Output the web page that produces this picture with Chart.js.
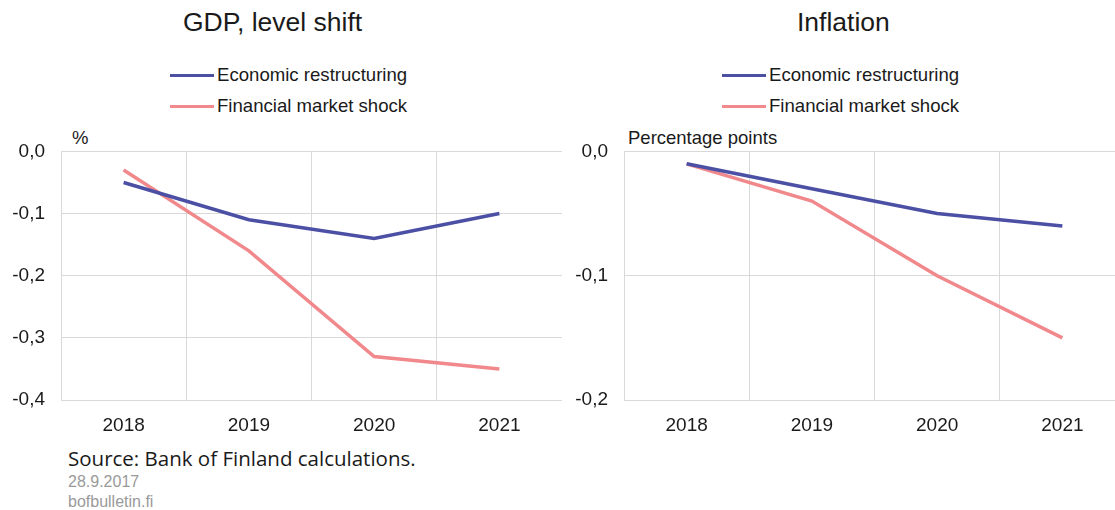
<!DOCTYPE html>
<html>
<head>
<meta charset="utf-8">
<script src="https://cdn.jsdelivr.net/npm/chart.js@4"></script>
<style>
  body { margin: 0; width: 1115px; height: 510px; overflow: hidden; position: relative; background: #fff;
         font-family: "Liberation Sans", Arial, sans-serif; color: #1a1a1a; }
  .abs { position: absolute; white-space: nowrap; }
  .title { font-size: 26.5px; top: 7px; }
  .leg { font-size: 18.6px; line-height: 22px; }
  .leg span { display: inline-block; width: 44px; height: 3px; vertical-align: middle; margin-right: 3px; position: relative; top: -1px; }
  .unit { font-size: 18.5px; top: 127px; }
  .wrap { position: absolute; top: 124px; width: 562px; height: 316px; }
</style>
</head>
<body>
<div class="abs title" style="left:183px">GDP, level shift</div>
<div class="abs title" style="left:797px">Inflation</div>

<div class="abs leg" style="left:170px;top:64px"><span style="background:#4b50a5"></span>Economic restructuring</div>
<div class="abs leg" style="left:170px;top:95px"><span style="background:#f0888c"></span>Financial market shock</div>
<div class="abs leg" style="left:722px;top:64px"><span style="background:#4b50a5"></span>Economic restructuring</div>
<div class="abs leg" style="left:722px;top:95px"><span style="background:#f0888c"></span>Financial market shock</div>

<div class="abs unit" style="left:72px">%</div>
<div class="abs unit" style="left:628px">Percentage points</div>

<div class="wrap" style="left:0"><canvas id="gdp" width="562" height="316"></canvas></div>
<div class="wrap" style="left:563px"><canvas id="infl" width="562" height="316"></canvas></div>

<div class="abs" style="left:68px;top:444px;font-family:'Open Sans',sans-serif;font-size:20.5px">Source: Bank of Finland calculations.</div>
<div class="abs" style="left:68px;top:473px;font-size:16px;color:#9a9a9a">28.9.2017</div>
<div class="abs" style="left:68px;top:493px;font-size:16px;color:#9a9a9a">bofbulletin.fi</div>

<script>
const years = ['2018', '2019', '2020', '2021'];
const seriesNames = ['Economic restructuring', 'Financial market shock'];
const gdpRestructuring = [-0.05, -0.11, -0.14, -0.10];
const gdpFinancial = [-0.03, -0.16, -0.33, -0.35];
const inflRestructuring = [-0.01, -0.03, -0.05, -0.06];
const inflFinancial = [-0.01, -0.04, -0.10, -0.15];
const colors = ['#4b50a5', '#f0888c'];

function makeChart(id, a, b, yMin) {
    new Chart(document.getElementById(id), {
        type: 'line',
        data: {
            labels: years,
            datasets: [
                { label: seriesNames[0], data: a, borderColor: colors[0], borderWidth: 3.5, pointRadius: 0, tension: 0 },
                { label: seriesNames[1], data: b, borderColor: colors[1], borderWidth: 3.5, pointRadius: 0, tension: 0 }
            ]
        },
        options: {
            responsive: false,
            animation: false,
            devicePixelRatio: 1,
            layout: { padding: { top: 12, right: 0, bottom: 0, left: 0 } },
            plugins: { legend: { display: false }, tooltip: { enabled: false } },
            scales: {
                x: {
                    offset: true,
                    grid: { offset: true, color: '#d9d9d9', drawTicks: false },
                    border: { color: '#d9d9d9' },
                    ticks: { padding: 14, color: '#1a1a1a', font: { family: 'Liberation Sans', size: 19 } },
                    afterFit: s => { s.height = 40; }
                },
                y: {
                    min: yMin, max: 0,
                    grid: { color: '#d9d9d9', drawTicks: false },
                    border: { color: '#d9d9d9' },
                    ticks: {
                        stepSize: 0.1, padding: 16, color: '#1a1a1a',
                        font: { family: 'Liberation Sans', size: 19 },
                        callback: v => (Math.abs(v) < 1e-9 ? 0 : v).toFixed(1).replace('.', ',')
                    },
                    afterFit: s => { s.width = 61; }
                }
            }
        }
    });
}

makeChart('gdp', gdpRestructuring, gdpFinancial, -0.4);
makeChart('infl', inflRestructuring, inflFinancial, -0.2);
</script>
</body>
</html>
